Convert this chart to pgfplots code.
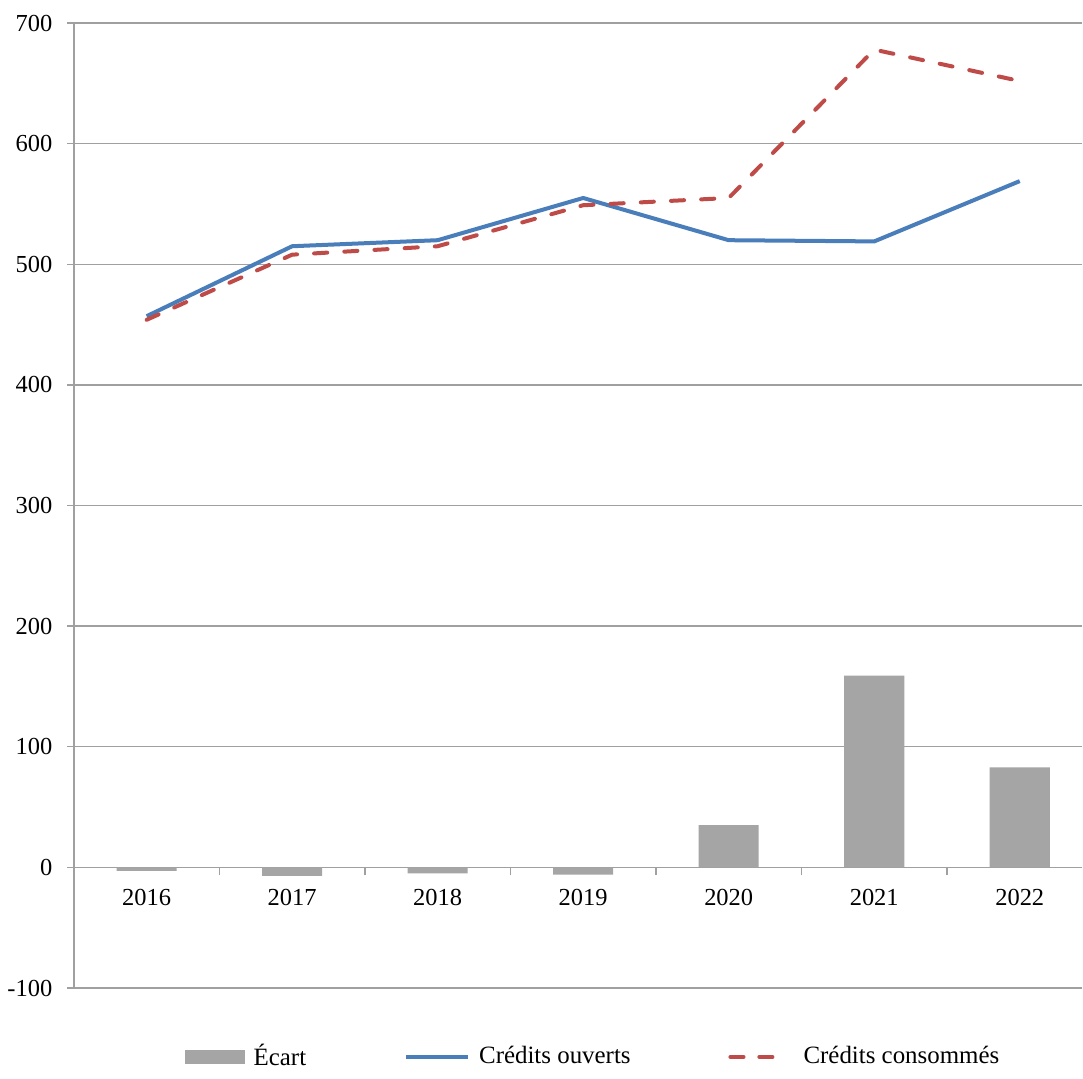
\documentclass[border=0pt]{standalone}
\usepackage{fontspec}
\setmainfont{Liberation Serif}
\usepackage{pgfplots}
\pgfplotsset{compat=1.18}
\definecolor{barg}{HTML}{A5A5A5}
\definecolor{bl}{HTML}{4A7EBB}
\definecolor{rd}{HTML}{BE4B48}
\definecolor{gridc}{HTML}{A0A0A0}
\begin{document}
\begin{tikzpicture}
\begin{axis}[
  name=ax,
  scale only axis, width=453.6pt, height=434pt,
  xmin=-0.5, xmax=6.43, ymin=-100, ymax=700,
  ytick={-100,0,100,200,300,400,500,600,700},
  ymajorgrids, grid style={gridc, line width=0.6pt},
  axis y line*=left, axis x line*=middle,
  axis line style={gridc, line width=0.6pt, -},
  xtick={0,1,2,3,4,5,6},
  xticklabels={2016,2017,2018,2019,2020,2021,2022},
  minor xtick={0.5,1.5,2.5,3.5,4.5,5.5},
  major x tick style={draw=none},
  minor x tick style={gridc, line width=0.6pt},
  minor tick length=3.6pt,
  major y tick style={gridc, line width=0.6pt},
  major tick length=3.2pt,
  tick align=outside,
  tick label style={font=\fontsize{11}{13}\selectfont},
  /pgf/number format/assume math mode=true,
  yticklabel style={xshift=-3pt},
  xticklabel style={yshift=-3pt},
  legend columns=3,
  legend style={at={(0.516,-0.0715)}, anchor=center, draw=none,
    font=\fontsize{11.2}{13}\selectfont,
    /tikz/every even column/.append style={column sep=42pt},
    /tikz/every odd column/.append style={column sep=0pt}},
  legend cell align=left,
]
\addplot[ybar, bar width=27pt, fill=barg, draw=none,
  legend image code/.code={\fill[barg] (0pt,-3pt) rectangle (27pt,3pt); \path (29pt,0pt);}]
  coordinates {(0,-3) (1,-7) (2,-5) (3,-6) (4,35) (5,159) (6,83)};
\addlegendentry{Écart}
\addplot[bl, line width=1.8pt, line join=round,
  legend image code/.code={\draw[bl, line width=1.8pt] (0pt,0pt) -- (28pt,0pt); \path (30pt,0pt);}]
  coordinates {(0,457) (1,515) (2,520) (3,555) (4,520) (5,519) (6,569)};
\addlegendentry{Crédits ouverts}
\addplot[rd, line width=1.8pt, line cap=round, dash pattern=on 5.9pt off 7.7pt,
  legend image code/.code={\draw[rd, line width=1.8pt, line cap=round] (1pt,0pt) -- (7pt,0pt) (14pt,0pt) -- (20pt,0pt); \path (31pt,0pt);}]
  coordinates {(0,454) (1,508) (2,515) (3,549) (4,555) (5,678) (6,652)};
\addlegendentry{Crédits consommés}
\end{axis}
\path ([yshift=10.4pt]ax.north west) -- ([yshift=-36.5pt]ax.south west);
\end{tikzpicture}
\end{document}
